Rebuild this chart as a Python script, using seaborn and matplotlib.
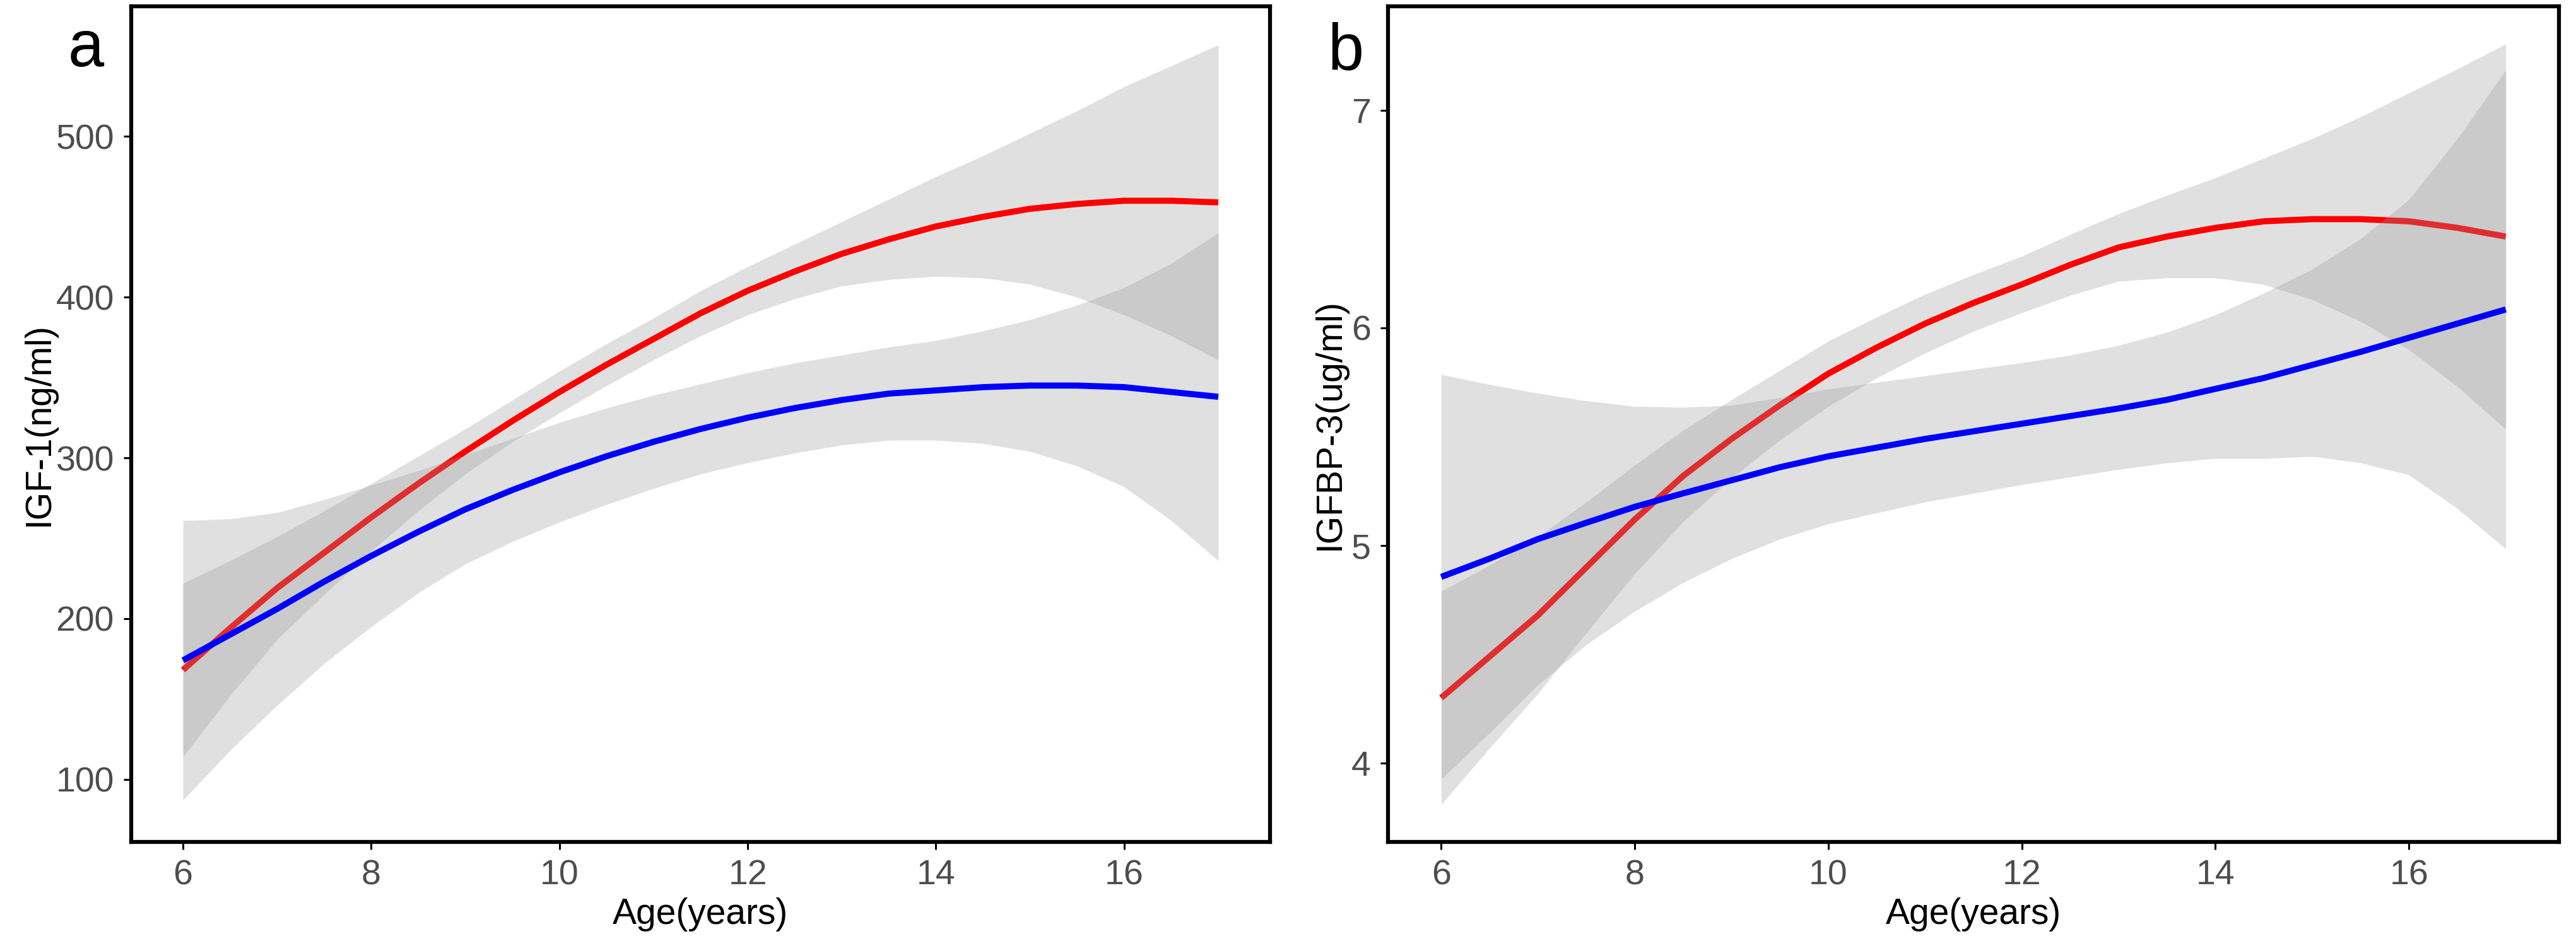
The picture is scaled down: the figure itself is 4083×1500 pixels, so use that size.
import numpy as np
import pandas as pd
import matplotlib
matplotlib.use("Agg")
import matplotlib.pyplot as plt
import seaborn as sns

# ---------------- data ----------------
age = [6, 6.5, 7, 7.5, 8, 8.5, 9, 9.5, 10, 10.5, 11, 11.5,
       12, 12.5, 13, 13.5, 14, 14.5, 15, 15.5, 16, 16.5, 17]

# Panel a: IGF-1 (ng/ml)
igf1_red_fit = [168, 194, 219, 241, 263, 284, 304, 323, 341, 358, 374, 390,
                404, 416, 427, 436, 444, 450, 455, 458, 460, 460, 459]
igf1_red_lo = [114, 152, 187, 215, 242, 267, 290, 310, 328, 345, 361, 376,
               389, 399, 407, 411, 413, 412, 408, 400, 389, 376, 361]
igf1_red_hi = [222, 236, 251, 267, 284, 301, 318, 336, 354, 371, 387, 404,
               419, 433, 447, 461, 475, 488, 502, 516, 531, 544, 557]
igf1_blue_fit = [174, 190, 206, 223, 239, 254, 268, 280, 291, 301, 310, 318,
                 325, 331, 336, 340, 342, 344, 345, 345, 344, 341, 338]
igf1_blue_lo = [87, 118, 146, 172, 195, 216, 234, 248, 260, 271, 281, 290,
                297, 303, 308, 311, 311, 309, 304, 295, 282, 261, 236]
igf1_blue_hi = [261, 262, 266, 274, 283, 292, 302, 312, 322, 331, 339, 346,
                353, 359, 364, 369, 373, 379, 386, 395, 406, 421, 440]

# Panel b: IGFBP-3 (ug/ml)
bp3_red_fit = [4.30, 4.49, 4.68, 4.90, 5.12, 5.32, 5.49, 5.645, 5.79, 5.91, 6.02, 6.115,
               6.20, 6.29, 6.37, 6.42, 6.46, 6.49, 6.50, 6.50, 6.49, 6.46, 6.42]
bp3_red_lo = [3.81, 4.07, 4.32, 4.60, 4.87, 5.11, 5.31, 5.485, 5.64, 5.77, 5.885, 5.985,
              6.07, 6.15, 6.215, 6.23, 6.23, 6.20, 6.13, 6.03, 5.90, 5.73, 5.535]
bp3_red_hi = [4.79, 4.91, 5.04, 5.20, 5.37, 5.53, 5.67, 5.805, 5.94, 6.05, 6.155, 6.245,
              6.33, 6.43, 6.525, 6.61, 6.69, 6.78, 6.87, 6.97, 7.08, 7.19, 7.305]
bp3_blue_fit = [4.856, 4.94, 5.03, 5.105, 5.178, 5.24, 5.30, 5.36, 5.41, 5.45, 5.49, 5.525,
                5.56, 5.595, 5.63, 5.67, 5.72, 5.77, 5.83, 5.89, 5.955, 6.02, 6.085]
bp3_blue_lo = [3.926, 4.14, 4.36, 4.545, 4.698, 4.83, 4.94, 5.03, 5.10, 5.15, 5.20, 5.24,
               5.28, 5.315, 5.35, 5.38, 5.40, 5.40, 5.41, 5.38, 5.325, 5.17, 4.985]
bp3_blue_hi = [5.786, 5.74, 5.70, 5.665, 5.64, 5.635, 5.645, 5.68, 5.72, 5.75, 5.78, 5.81,
               5.84, 5.875, 5.92, 5.98, 6.06, 6.16, 6.27, 6.41, 6.59, 6.87, 7.185]

x_ticks = [6, 8, 10, 12, 14, 16]
a_yticks = [100, 200, 300, 400, 500]
b_yticks = [4, 5, 6, 7]

panel_letters = ["a", "b"]
x_title = "Age(years)"
a_ytitle = "IGF-1(ng/ml)"
b_ytitle = "IGFBP-3(ug/ml)"

# ---------------- style ----------------
sns.set_theme(style="white")
plt.rcParams["font.family"] = ["Liberation Sans", "DejaVu Sans"]
TICK_FAMILY = ["Liberation Sans Narrow", "Liberation Sans", "DejaVu Sans"]

RED = "#FF0000"
BLUE = "#0000FF"
BAND = "#999999"
BAND_ALPHA = 0.3
LW = 7

fig = plt.figure(figsize=(40.83, 15), dpi=100)
fig.patch.set_facecolor("white")
axA = fig.add_axes([208 / 4083, 165 / 1500, 1805 / 4083, 1325 / 1500])
axB = fig.add_axes([2200 / 4083, 165 / 1500, 1856 / 4083, 1325 / 1500])


def draw_panel(ax, rfit, rlo, rhi, bfit, blo, bhi):
    dr = pd.DataFrame({"age": age, "fit": rfit, "lo": rlo, "hi": rhi})
    db = pd.DataFrame({"age": age, "fit": bfit, "lo": blo, "hi": bhi})
    # red group: ribbon then line
    ax.fill_between(dr["age"], dr["lo"], dr["hi"], color=BAND, alpha=BAND_ALPHA,
                    linewidth=0, zorder=1)
    sns.lineplot(data=dr, x="age", y="fit", color=RED, linewidth=LW, ax=ax,
                 zorder=2, solid_capstyle="butt", solid_joinstyle="round",
                 legend=False, errorbar=None)
    # blue group: ribbon then line (drawn over the red line)
    ax.fill_between(db["age"], db["lo"], db["hi"], color=BAND, alpha=BAND_ALPHA,
                    linewidth=0, zorder=3)
    sns.lineplot(data=db, x="age", y="fit", color=BLUE, linewidth=LW, ax=ax,
                 zorder=4, solid_capstyle="butt", solid_joinstyle="round",
                 legend=False, errorbar=None)


draw_panel(axA, igf1_red_fit, igf1_red_lo, igf1_red_hi,
           igf1_blue_fit, igf1_blue_lo, igf1_blue_hi)
draw_panel(axB, bp3_red_fit, bp3_red_lo, bp3_red_hi,
           bp3_blue_fit, bp3_blue_lo, bp3_blue_hi)

axA.set_xlim(5.45, 17.55)
axB.set_xlim(5.45, 17.55)
axA.set_ylim(61, 581)
axB.set_ylim(3.638, 7.478)

for ax, yt, ytitle, ylab_x in [(axA, a_yticks, a_ytitle, -0.0809),
                               (axB, b_yticks, b_ytitle, -0.0496)]:
    ax.set_facecolor("white")
    ax.grid(False)
    for sp in ax.spines.values():
        sp.set_visible(True)
        sp.set_color("black")
        sp.set_linewidth(4.5)
    ax.set_xticks(x_ticks, [str(t) for t in x_ticks], fontfamily=TICK_FAMILY)
    ax.set_yticks(yt, [str(t) for t in yt], fontfamily=TICK_FAMILY)
    ax.tick_params(axis="both", which="major", direction="out", length=8.6,
                   width=2.2, color="black", labelsize=40, labelcolor="#4D4D4D",
                   pad=11, bottom=True, left=True, top=False, right=False)
    ax.set_xlabel(x_title, fontsize=41, color="black")
    ax.set_ylabel(ytitle, fontsize=41, color="black")
    ax.xaxis.label.set_va("center")
    ax.yaxis.label.set_va("center")
    ax.xaxis.set_label_coords(0.5, -0.0868)
    ax.yaxis.set_label_coords(ylab_x, 0.5)

fig.text(136 / 4083, 1 - 105 / 1500, panel_letters[0], fontsize=74,
         ha="center", va="baseline", color="black")
fig.text(2133 / 4083, 1 - 109 / 1500, panel_letters[1], fontsize=74,
         ha="center", va="baseline", color="black")

fig.savefig("out.png", dpi=100, facecolor="white")
